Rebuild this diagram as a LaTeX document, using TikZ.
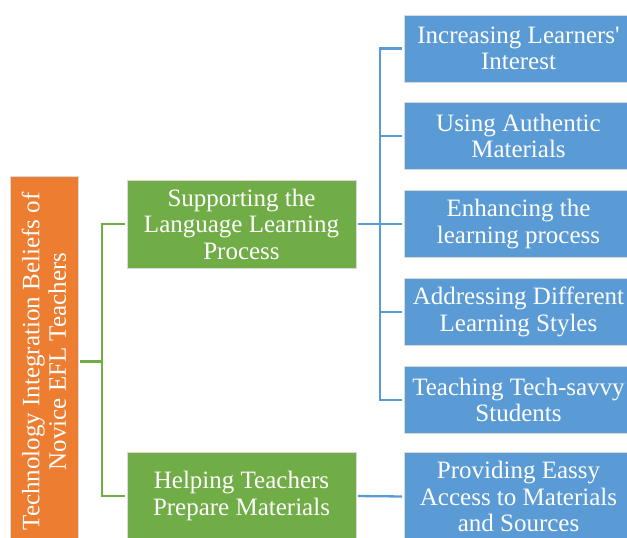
\documentclass[tikz,border=0pt]{standalone}
\usepackage{fontspec}
\setmainfont{Liberation Serif}
\definecolor{obrange}{HTML}{ED7D31}
\definecolor{obgreen}{HTML}{70AD47}
\definecolor{obblue}{HTML}{5B9BD5}
\begin{document}
\begin{tikzpicture}[x=1pt,y=-1pt,
  box/.style={draw=white!85!black, line width=0.6pt, text=white, align=center,
    font=\fontsize{25}{26.5}\selectfont, inner sep=0pt},
  rootbox/.style={box, fill=obrange, minimum width=370pt, minimum height=68pt, rotate=90},
  greenbox/.style={box, fill=obgreen, minimum width=229pt, minimum height=88pt},
  bluebox/.style={box, fill=obblue, minimum width=229pt, minimum height=67pt},
  gline/.style={draw=obgreen, line width=2.3pt, shorten <=1.5pt, shorten >=1.5pt},
  bline/.style={draw=obblue, line width=2.3pt, shorten <=1.5pt, shorten >=1.5pt}]
\useasboundingbox (0,0) rectangle (627,538);
\clip (0,0) rectangle (627,538);
\fill[white] (0,0) rectangle (627,538);
\node[rootbox] (root) at (44,361.5) {Technology Integration Beliefs of\\Novice EFL Teachers};
\node[greenbox] (g1) at (241.5,224) {Supporting the\\Language Learning\\Process};
\node[greenbox] (g2) at (241.5,496) {Helping Teachers\\Prepare Materials};
\node[bluebox] (b1) at (518.5,48.5) {Increasing Learners\textquotesingle\\Interest};
\node[bluebox] (b2) at (518.5,136) {Using Authentic\\Materials};
\node[bluebox] (b3) at (518.5,224) {Enhancing the\\learning process};
\node[bluebox] (b4) at (518.5,312) {Addressing Different\\Learning Styles};
\node[bluebox] (b5) at (518.5,400) {Teaching Tech-savvy\\Students};
\node[bluebox, minimum height=88pt] (b6) at (518.5,496.5) {Providing Eassy\\Access to Materials\\and Sources};
\coordinate (jg) at (102,361.5);
\coordinate (jb) at (380,224);
\draw[gline, shorten >=0pt] (root.south) -- (jg);
\draw[gline] (g1.west) -| (jg) |- (g2.west);
\draw[bline] (g1.east) -- (b3.west);
\draw[bline] (b1.west) -| (jb) |- (b5.west);
\draw[bline, shorten >=0pt] (b2.west) -- (b2.west -| jb);
\draw[bline, shorten >=0pt] (b4.west) -- (b4.west -| jb);
\draw[bline] (g2.east) -- (b6.west);
\end{tikzpicture}
\end{document}
